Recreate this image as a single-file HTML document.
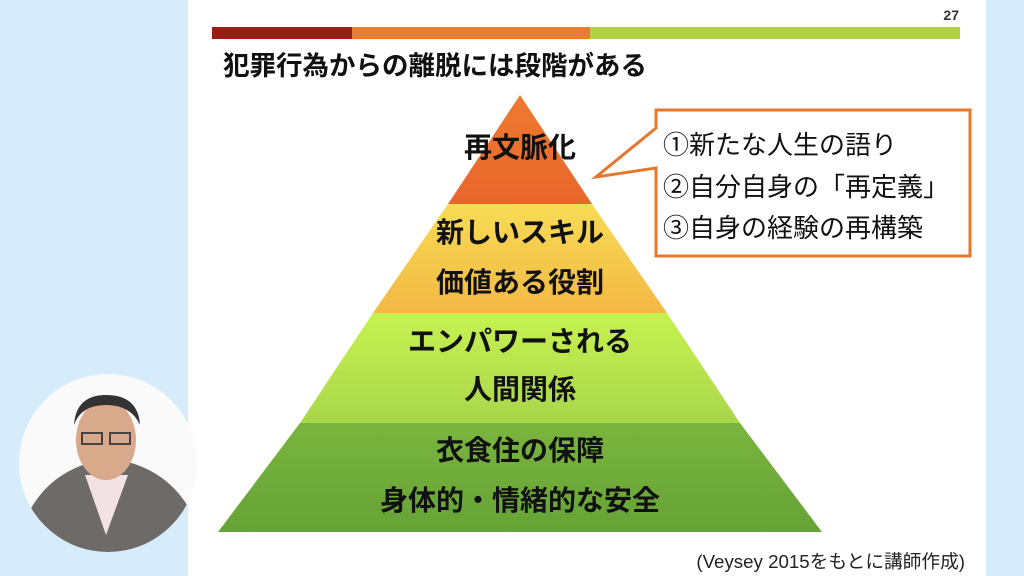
<!DOCTYPE html>
<html><head><meta charset="utf-8"><style>
body{margin:0;width:1024px;height:576px;overflow:hidden;background:#fff;font-family:"Liberation Sans","Noto Sans CJK JP",sans-serif}
</style></head><body>
<svg width="1024" height="576" xmlns="http://www.w3.org/2000/svg" style="position:absolute;left:0;top:0">
<defs>
<linearGradient id="g1" x1="0" y1="0" x2="0" y2="1"><stop offset="0" stop-color="#f7dc55"/><stop offset="1" stop-color="#f3b844"/></linearGradient>
<linearGradient id="g2" x1="0" y1="0" x2="0" y2="1"><stop offset="0" stop-color="#c6f251"/><stop offset="1" stop-color="#a9d64a"/></linearGradient>
<linearGradient id="g3" x1="0" y1="0" x2="0" y2="1"><stop offset="0" stop-color="#7ab53e"/><stop offset="1" stop-color="#66a336"/></linearGradient>
<linearGradient id="g0" x1="0" y1="0" x2="0" y2="1"><stop offset="0" stop-color="#ee7a30"/><stop offset="1" stop-color="#e9662b"/></linearGradient>
<clipPath id="c"><circle cx="108" cy="463" r="89"/></clipPath>
</defs>
<rect x="0" y="0" width="188" height="576" fill="#d7ecfb"/>
<rect x="986" y="0" width="38" height="576" fill="#d7ecfb"/>
<rect x="212" y="27" width="140" height="12" fill="#9a1d16"/>
<rect x="352" y="27" width="238" height="12" fill="#ec7a31"/>
<rect x="590" y="27" width="370" height="12" fill="#afd142"/>
<text x="959" y="20" font-size="14" font-weight="bold" fill="#333" text-anchor="end">27</text>
<text x="223" y="75" font-size="26.5" font-weight="bold" fill="#111">犯罪行為からの離脱には段階がある</text>
<polygon points="520,95 592,204 448,204" fill="url(#g0)"/>
<polygon points="448,204 592,204 667,313 373,313" fill="url(#g1)"/>
<polygon points="373,313 667,313 740,423 300,423" fill="url(#g2)"/>
<polygon points="300,423 740,423 822,532 218,532" fill="url(#g3)"/>
<g font-size="28" font-weight="bold" fill="#111" text-anchor="middle">
<text x="520" y="157">再文脈化</text>
<text x="520" y="242">新しいスキル</text>
<text x="520" y="292">価値ある役割</text>
<text x="520" y="351">エンパワーされる</text>
<text x="520" y="399">人間関係</text>
<text x="520" y="460">衣食住の保障</text>
<text x="520" y="510">身体的・情緒的な安全</text>
</g>
<path d="M656,110 H970 V256 H656 V168 L596,177 L656,128 Z" fill="#fff" stroke="#e8772e" stroke-width="3"/>
<g font-size="26" fill="#111">
<text x="663" y="154">①新たな人生の語り</text>
<text x="663" y="196">②自分自身の「再定義」</text>
<text x="663" y="237">③自身の経験の再構築</text>
</g>
<text x="965" y="568" font-size="18.7" fill="#222" text-anchor="end">(Veysey 2015をもとに講師作成)</text>
<circle cx="108" cy="463" r="89" fill="#fafafa"/>
<g clip-path="url(#c)">
<path d="M25,520 Q45,475 92,462 L128,462 Q175,475 195,520 L195,570 L25,570Z" fill="#6d6a67"/>
<path d="M85,475 L106,535 L128,475 Z" fill="#f2e2e4"/>
<ellipse cx="106" cy="440" rx="30" ry="40" fill="#d9a98c"/>
<path d="M74,425 Q76,395 106,395 Q138,395 140,425 Q131,405 106,405 Q81,405 74,425Z" fill="#333"/>
<rect x="82" y="433" width="20" height="11" fill="none" stroke="#444" stroke-width="2"/>
<rect x="110" y="433" width="20" height="11" fill="none" stroke="#444" stroke-width="2"/>
</g>
</svg>
</body></html>
